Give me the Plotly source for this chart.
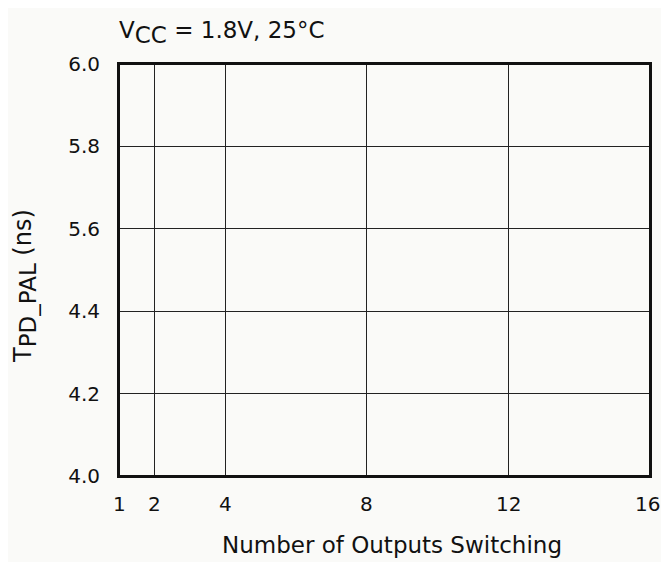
import plotly.graph_objects as go

x_ticks = [1, 2, 4, 8, 12, 16]
y_positions = [0, 1, 2, 3, 4, 5]
y_tick_labels = ["4.0", "4.2", "4.4", "5.6", "5.8", "6.0"]

title_text = "V<sub><span style='font-size:23px'>CC</span></sub> = 1.8V, 25°C"
x_title = "Number of Outputs Switching"
y_title = "T<sub><span style='font-size:23px'>PD_PAL</span></sub> (ns)"

bg = "#fafaf8"
font_family = "DejaVu Sans, Liberation Sans, Arial, sans-serif"

W, H = 661, 562
L, R, T, B = 119, 11, 64, 86
PW, PH = W - L - R, H - T - B


def px(fx):
    return (fx - L) / PW


def py(fy):
    return (H - B - fy) / PH


fig = go.Figure()
fig.add_trace(go.Scatter(x=[], y=[], mode="lines", showlegend=False))

fig.update_layout(
    width=W, height=H,
    margin=dict(l=L, r=R, t=T, b=B, autoexpand=False),
    paper_bgcolor=bg, plot_bgcolor=bg,
    font=dict(family=font_family, size=20, color="#111"),
    showlegend=False,
)
fig.update_xaxes(
    range=[1, 16], tickvals=x_ticks, showticklabels=False,
    showgrid=True, gridcolor="#222", gridwidth=1,
    showline=True, linecolor="#111", linewidth=2, mirror=True,
    zeroline=False,
)
fig.update_yaxes(
    range=[0, 5], tickvals=y_positions, ticktext=y_tick_labels,
    showgrid=True, gridcolor="#222", gridwidth=1,
    showline=True, linecolor="#111", linewidth=2, mirror=True,
    ticks="outside", ticklen=13, tickcolor="rgba(0,0,0,0)",
    zeroline=False, tickfont=dict(size=20),
)

# x tick labels placed through the x axis scale
for v in x_ticks:
    fig.add_annotation(text=str(v), xref="x", yref="paper", x=v, y=py(504),
                       showarrow=False, font=dict(size=20), xanchor="center", yanchor="middle",
                       xshift=-3 if v == x_ticks[-1] else 0)

# plot frame
fig.add_shape(type="rect", xref="paper", yref="paper", x0=0, x1=1, y0=0, y1=1,
              line=dict(color="#111", width=2), layer="above")

# white page edge (left and top) as in the reference
fig.add_shape(type="rect", xref="paper", yref="paper",
              x0=px(0), x1=px(8), y0=py(H), y1=py(0),
              fillcolor="white", line=dict(width=0), layer="below")
fig.add_shape(type="rect", xref="paper", yref="paper",
              x0=px(0), x1=px(W), y0=py(8), y1=py(0),
              fillcolor="white", line=dict(width=0), layer="below")

fig.add_annotation(text=title_text, xref="paper", yref="paper", x=px(117), y=py(33),
                   showarrow=False, font=dict(size=23), xanchor="left", yanchor="middle")
fig.add_annotation(text=x_title, xref="paper", yref="paper", x=px(391.5), y=py(545),
                   showarrow=False, font=dict(size=23), xanchor="center", yanchor="middle")
fig.add_annotation(text=y_title, xref="paper", yref="paper", x=px(25), y=py(286),
                   showarrow=False, font=dict(size=24), textangle=-90,
                   xanchor="center", yanchor="middle")

post = ("document.body.style.margin='0';document.body.style.overflow='hidden';"
        "document.documentElement.style.overflow='hidden';")
fig.write_html("out.html", post_script=post,
               config={"displayModeBar": False, "staticPlot": True})
